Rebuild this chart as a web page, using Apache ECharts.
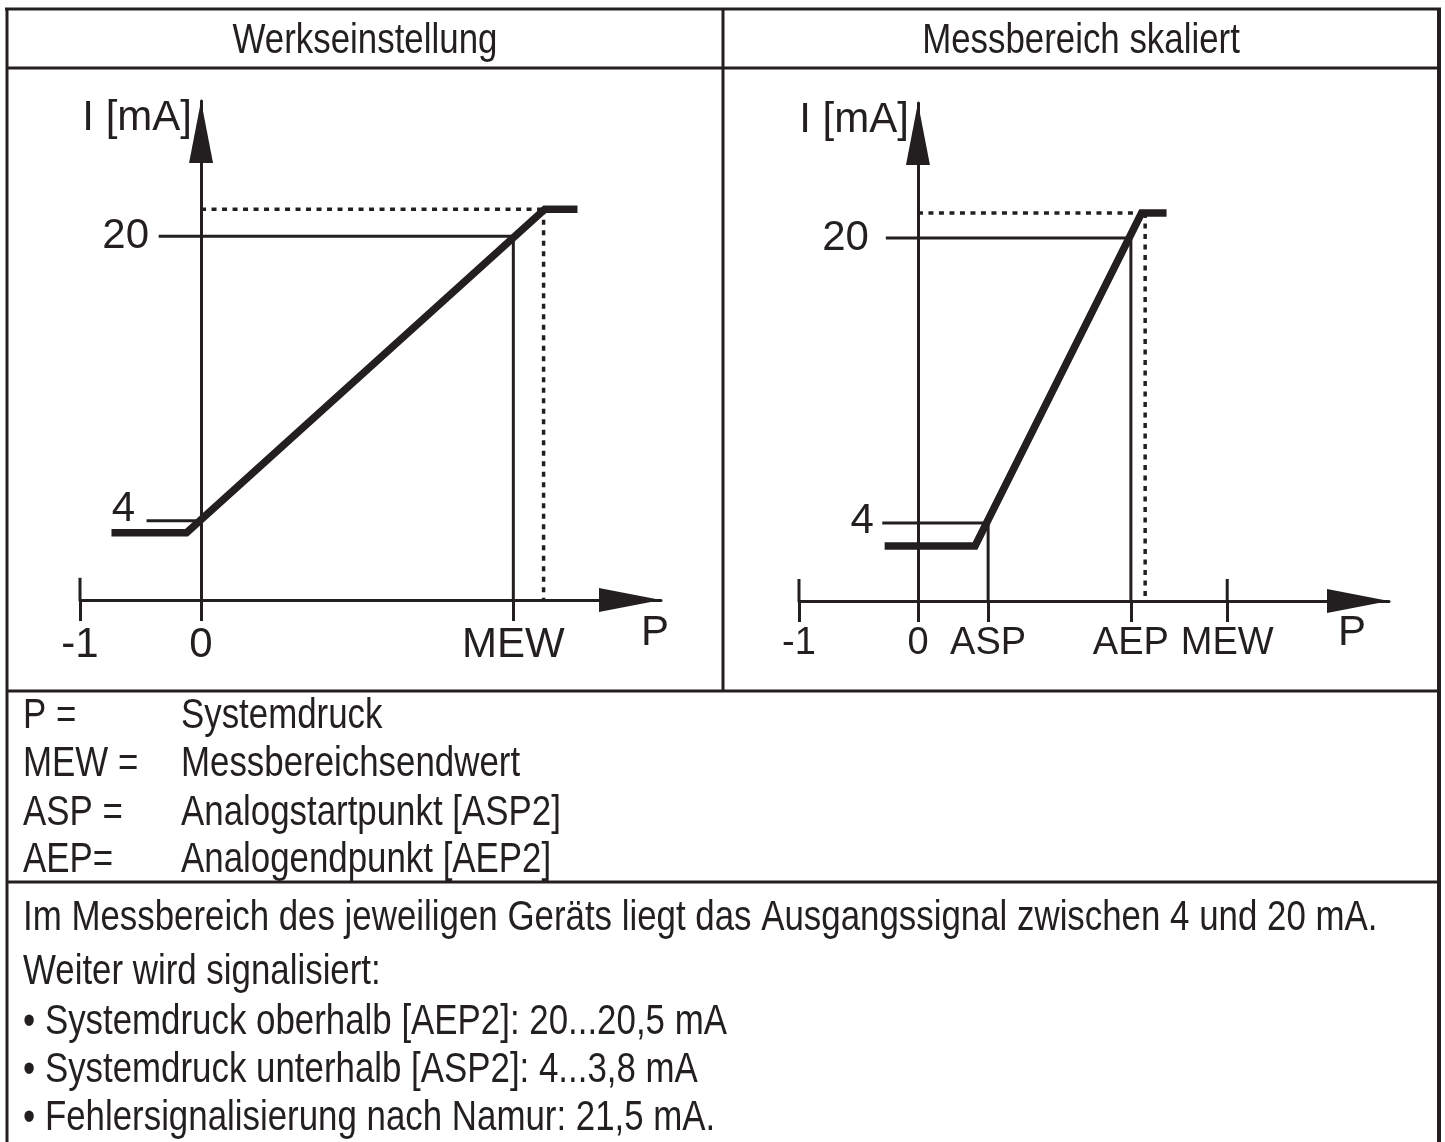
<!DOCTYPE html>
<html><head><meta charset="utf-8">
<script src="https://cdn.jsdelivr.net/npm/echarts@6/dist/echarts.min.js"></script>
<style>html,body{margin:0;padding:0;background:#fff}#c{width:1445px;height:1142px}</style>
</head><body><div id="c"></div>
<script>
const FONT = "'Liberation Sans',Arial,sans-serif";
const INK = '#231f20';
const NARROW = 0.83;

// ---------- Left panel: Werkseinstellung ----------
const leftXRange = [-1, 3.8];
const leftYRange = [-0.45, 27.6];
const leftCurveP = [-0.74, -0.12, 2.84, 3.11];
const leftCurveI = [3.33, 3.33, 21.52, 21.52];
const leftXTickValues = [-1, 0, 2.58];
const leftXTickLabels = ['-1', '0', 'MEW'];
const leftYTickValues = [4, 20];
const leftYTickLabels = ['4', '20'];
// solid guide segments [p0, i0, p1, i1]
const leftSolid = [
  [-0.35, 20, 2.58, 20],
  [-0.45, 4, 0, 4],
  [2.58, 20, 2.58, -0.45],
  [-1, -0.45, -1, 0.8]
];
const leftDotted = [
  [0, 21.52, 2.83, 21.52],
  [2.83, 21.52, 2.83, -0.45]
];

// ---------- Right panel: Messbereich skaliert ----------
const rightXRange = [-1, 3.96];
const rightYRange = [-0.38, 27.58];
const rightCurveP = [-0.28, 0.48, 1.88, 2.09];
const rightCurveI = [2.71, 2.71, 21.4, 21.4];
const rightXTickValues = [-1, 0, 0.59, 1.79, 2.6];
const rightXTickLabels = ['-1', '0', 'ASP', 'AEP', 'MEW'];
const rightYTickValues = [4, 20];
const rightYTickLabels = ['4', '20'];
const rightSolid = [
  [-0.27, 20, 1.79, 20],
  [-0.3, 4, 0.59, 4],
  [0.59, 4, 0.59, -0.38],
  [1.79, 20, 1.79, -0.38],
  [-1, -0.38, -1, 0.85],
  [2.6, -0.38, 2.6, 0.85]
];
const rightDotted = [
  [0, 21.4, 1.91, 21.4],
  [1.91, 21.4, 1.91, -0.38]
];

const axisNameY = 'I [mA]';
const axisNameX = 'P';

// ---------- Texts ----------
const headers = ['Werkseinstellung', 'Messbereich skaliert'];
const legendKeys = ['P =', 'MEW =', 'ASP =', 'AEP='];
const legendValues = ['Systemdruck', 'Messbereichsendwert', 'Analogstartpunkt [ASP2]', 'Analogendpunkt [AEP2]'];
const notes = [
  'Im Messbereich des jeweiligen Geräts liegt das Ausgangssignal zwischen 4 und 20 mA.',
  'Weiter wird signalisiert:',
  '• Systemdruck oberhalb [AEP2]: 20...20,5 mA',
  '• Systemdruck unterhalb [ASP2]: 4...3,8 mA',
  '• Fehlersignalisierung nach Namur: 21,5 mA.'
];

const GRIDS = [
  { left: 80, right: 784, top: 101, bottom: 542 },
  { left: 799, right: 56, top: 103, bottom: 541 }
];
const CHART_W = 1445;

function zip(a, b) { return a.map((v, i) => [v, b[i]]); }
function labelMap(vals, labels) { const m = {}; vals.forEach((v, i) => m[v] = labels[i]); return m; }

function segSeries(segs, idx, dotted) {
  return segs.map(s => ({
    type: 'line', xAxisIndex: idx, yAxisIndex: idx, silent: true,
    symbol: 'none', animation: false, z: 3,
    data: [[s[0], s[1]], [s[2], s[3]]],
    lineStyle: { color: INK, width: dotted ? 3.5 : 3, type: dotted ? [5, 5.5] : 'solid', cap: 'butt' }
  }));
}

function xAxisDef(idx, range, vals, labels, fontSize) {
  const lm = labelMap(vals, labels);
  return {
    type: 'value', gridIndex: idx, min: range[0], max: range[1],
    splitLine: { show: false },
    axisLine: { show: true, onZero: false, symbol: ['none', 'triangle'], symbolSize: [24, 62], symbolOffset: [0, -31],
      lineStyle: { color: INK, width: 3 } },
    axisTick: { show: true, customValues: vals, length: 21, lineStyle: { color: INK, width: 3 } },
    axisLabel: { show: true, customValues: vals, margin: 24, color: INK, fontFamily: FONT, fontSize: fontSize,
      formatter: v => lm[v] !== undefined ? lm[v] : '' }
  };
}

function yAxisDef(idx, range, xRange, vals, labels, margin, pad4, pad20) {
  const lm = labelMap(vals, labels);
  const g = GRIDS[idx];
  const gw = CHART_W - g.left - g.right;
  const off = -(0 - xRange[0]) / (xRange[1] - xRange[0]) * gw;
  return {
    type: 'value', gridIndex: idx, min: range[0], max: range[1], offset: off,
    splitLine: { show: false },
    axisLine: { show: true, onZero: false, symbol: ['none', 'triangle'], symbolSize: [24, 62], symbolOffset: [0, -31],
      lineStyle: { color: INK, width: 3 } },
    axisTick: { show: false },
    axisLabel: { show: true, customValues: vals, margin: margin, color: INK, fontFamily: FONT, fontSize: 42,
      formatter: v => lm[v] === '4' ? '{f|4}' : '{t|' + (lm[v] || '') + '}',
      rich: { f: { fontFamily: FONT, fontSize: 42, color: INK, padding: pad4 },
              t: { fontFamily: FONT, fontSize: 42, color: INK, padding: pad20 } } },
    name: axisNameY, nameLocation: 'end', nameGap: -17,
    nameTextStyle: { color: INK, fontFamily: FONT, fontSize: 42, align: 'right', verticalAlign: 'middle', padding: [0, 9, 0, 0] }
  };
}

const series = [
  ...segSeries(leftSolid, 0, false),
  ...segSeries(leftDotted, 0, true),
  ...segSeries(rightSolid, 1, false),
  ...segSeries(rightDotted, 1, true),
  { type: 'line', xAxisIndex: 0, yAxisIndex: 0, symbol: 'none', animation: false, z: 5,
    data: zip(leftCurveP, leftCurveI), lineStyle: { color: INK, width: 7.5, join: 'miter', cap: 'butt' } },
  { type: 'line', xAxisIndex: 1, yAxisIndex: 1, symbol: 'none', animation: false, z: 5,
    data: zip(rightCurveP, rightCurveI), lineStyle: { color: INK, width: 7.5, join: 'miter', cap: 'butt' } }
];

function txt(x, y, s, align, sx) {
  return { type: 'text', x: x, y: y, silent: true, scaleX: sx === undefined ? NARROW : sx,
    style: { text: s, fill: INK, font: '42px ' + FONT, textAlign: align || 'left', textVerticalAlign: 'middle' } };
}
function ln(x1, y1, x2, y2, w) {
  return { type: 'line', silent: true, shape: { x1, y1, x2, y2 }, style: { stroke: INK, lineWidth: w || 3 } };
}

const graphics = [
  ln(5, 9, 1441, 9), ln(7, 9, 7, 1142), ln(1439, 9, 1439, 1142, 4),
  ln(7, 68, 1439, 68), ln(723, 9, 723, 691), ln(7, 691, 1439, 691), ln(7, 882, 1439, 882),
  txt(365, 41, headers[0], 'center'), txt(1081, 41, headers[1], 'center')
];
const legendY = [716, 764, 813, 860];
legendKeys.forEach((k, i) => { graphics.push(txt(23, legendY[i], k)); graphics.push(txt(181, legendY[i], legendValues[i])); });
const noteY = [918, 972, 1022, 1070, 1118];
notes.forEach((n, i) => graphics.push(txt(23, noteY[i], n)));

const chart = echarts.init(document.getElementById('c'), null, { renderer: 'canvas' });
chart.setOption({
  animation: false,
  backgroundColor: '#fff',
  grid: GRIDS.map(g => Object.assign({ outerBoundsMode: 'none', containLabel: false }, g)),
  xAxis: [
    xAxisDef(0, leftXRange, leftXTickValues, leftXTickLabels, 42),
    xAxisDef(1, rightXRange, rightXTickValues, rightXTickLabels, 38)
  ],
  yAxis: [
    yAxisDef(0, leftYRange, leftXRange, leftYTickValues, leftYTickLabels, 52, [0, 14, 22, 0], [0, 0, 0, 0]),
    yAxisDef(1, rightYRange, rightXRange, rightYTickValues, rightYTickLabels, 44, [0, 0, 4, 0], [0, 5, 0, 0])
  ],
  series: series,
  graphic: graphics
});

// axis name "P" placed at the end of each x axis through the chart's own scales
const pL = chart.convertToPixel({ gridIndex: 0 }, [leftXRange[1], leftYRange[0]]);
const pR = chart.convertToPixel({ gridIndex: 1 }, [rightXRange[1], rightYRange[0]]);
graphics.push(txt(pL[0] - 6, pL[1] + 33, axisNameX, 'center', 1));
graphics.push(txt(pR[0] - 37, pR[1] + 32, axisNameX, 'center', 1));
chart.setOption({ graphic: graphics });
</script></body></html>
